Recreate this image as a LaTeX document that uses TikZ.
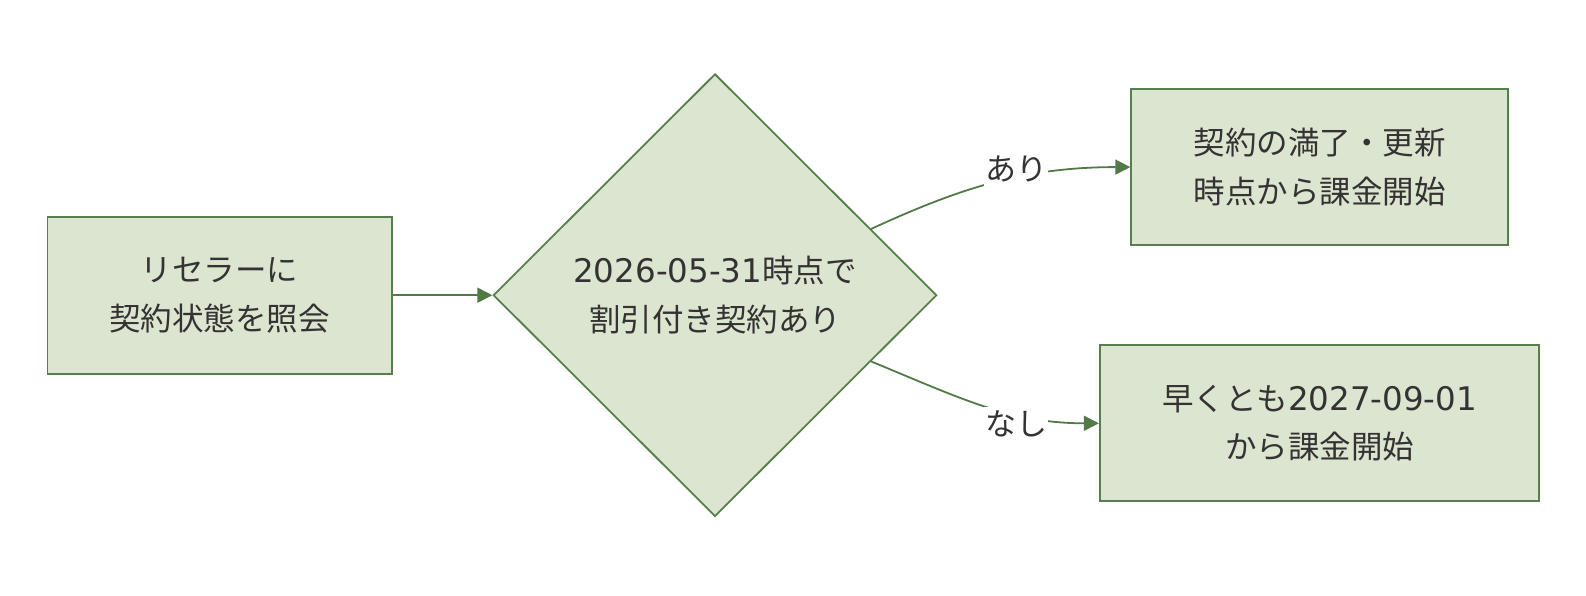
\documentclass[tikz,border=0pt]{standalone}
\usepackage{fontspec}
\setmainfont{Noto Sans CJK JP}
\newfontfamily\latfont{DejaVu Sans}
\newcommand{\latnum}[1]{{\fontsize{32.5}{48.5}\latfont #1}}
\usetikzlibrary{shapes.geometric,arrows.meta}
\definecolor{boxfill}{HTML}{DCE5CF}
\definecolor{boxline}{HTML}{56804B}
\definecolor{edgecol}{HTML}{527A47}
\definecolor{txt}{HTML}{333333}
\tikzset{
  box/.style={draw=boxline, fill=boxfill, line width=1.8pt, inner sep=0pt, align=center, text=txt, font=\fontsize{31.5}{48.5}\selectfont},
  deci/.style={diamond, draw=boxline, fill=boxfill, line width=1.8pt, inner sep=0pt, align=center, text=txt, font=\fontsize{31.5}{48.5}\selectfont},
  edge/.style={draw=edgecol, line width=1.8pt, -{Triangle[length=15pt,width=15pt]}},
  lab/.style={fill=white, inner xsep=1pt, inner ysep=4pt, text=txt, font=\fontsize{31}{36}\selectfont}
}
\begin{document}
\begin{tikzpicture}[x=1pt,y=-1pt]
\useasboundingbox (0,0) rectangle (1586,596);
\node[box, minimum width=344.3pt, minimum height=157pt] (a) at (219.7,295.2) {リセラーに\\契約状態を照会};
\node[deci, minimum width=443.5pt, minimum height=442.6pt] (d) at (715,295.2) {\latnum{2026-05-31}時点で\\割引付き契約あり};
\node[box, minimum width=376.7pt, minimum height=156pt] (b) at (1319.5,167.1) {契約の満了・更新\\時点から課金開始};
\node[box, minimum width=439.5pt, minimum height=156pt] (c) at (1319.5,423.3) {早くとも\latnum{2027-09-01}\\から課金開始};
\draw[edge] (a.east) -- (d.west);
\draw[edge] (d.23) .. controls (960,188) and (1025,167.1) .. (b.west);
\draw[edge] (d.-23) .. controls (960,398) and (1010,423.3) .. (c.west);
\node[lab] (l1) at (1016,169) {あり};
\node[lab] (l2) at (1016,424) {なし};
\end{tikzpicture}
\end{document}
